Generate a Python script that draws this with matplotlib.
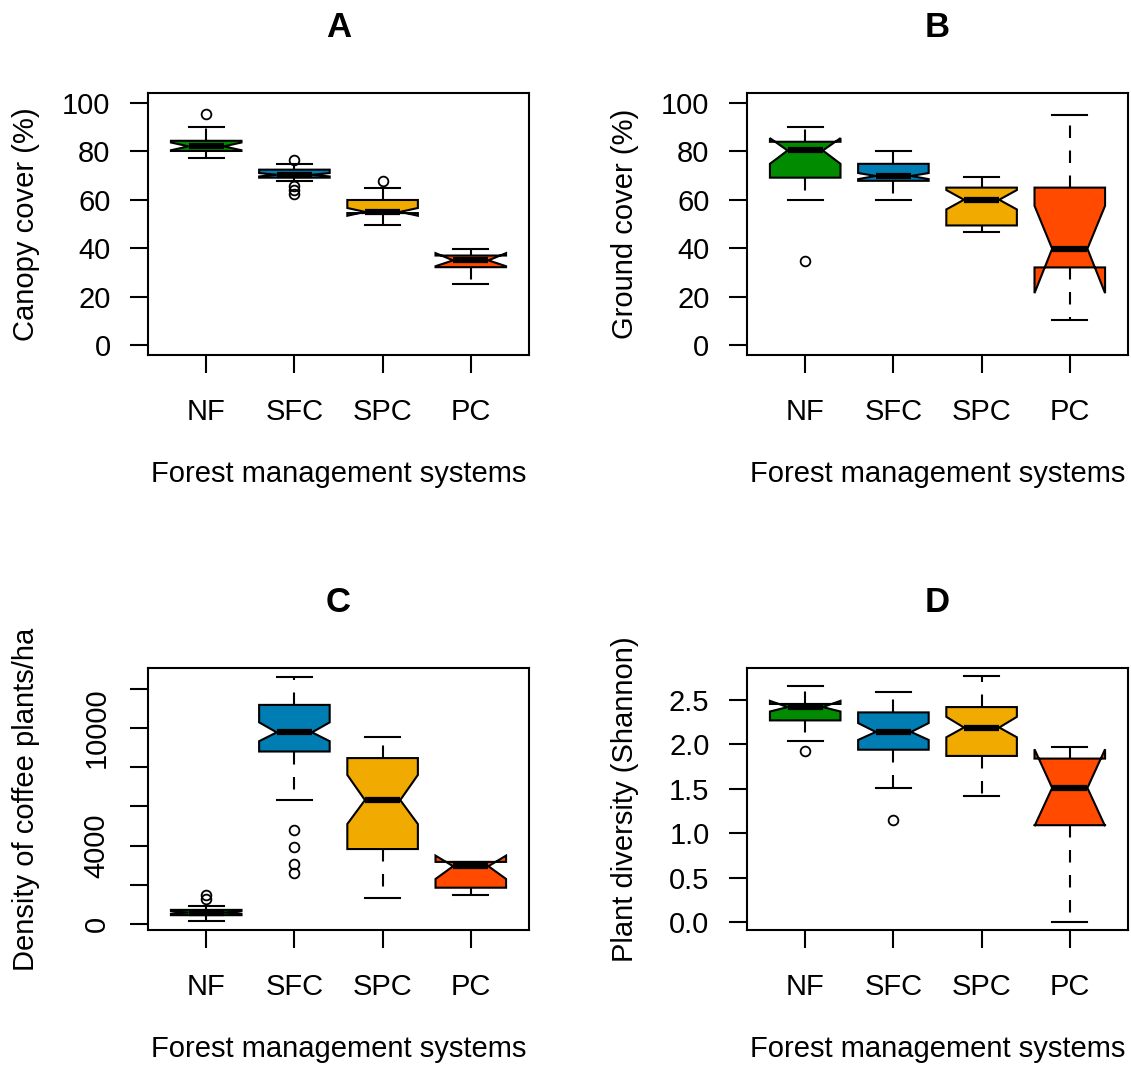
import matplotlib.pyplot as plt

plt.rcParams['font.family'] = ['Liberation Sans', 'DejaVu Sans']

groups = ['NF', 'SFC', 'SPC', 'PC']
colors = ['#008B00', '#007DB3', '#F0AA00', '#FF4A00']

# per group: whislo, q1, median, q3, whishi, notch low, notch high
canopy_box = [(77.3, 80.1, 82.0, 84.3, 89.8, 80.4, 83.6),
              (67.8, 69.1, 70.3, 72.4, 74.8, 69.6, 71.0),
              (49.7, 54.5, 55.0, 59.9, 65.0, 53.4, 56.6),
              (25.2, 32.2, 35.0, 37.0, 39.9, 32.6, 38.0)]
canopy_out = [[95.2], [76.2, 65.7, 64.0, 62.3], [67.8], []]

ground_box = [(59.9, 69.1, 80.3, 83.9, 89.8, 74.8, 85.4),
              (60.0, 67.8, 69.8, 74.8, 80.0, 68.5, 71.0),
              (46.7, 49.4, 60.0, 65.0, 69.5, 56.0, 64.0),
              (10.6, 32.1, 39.8, 65.0, 95.0, 21.5, 57.5)]
ground_out = [[34.7], [], [], []]

density_box = [(170, 455, 590, 725, 925, 520, 660),
               (6320, 8795, 9770, 11170, 12590, 9320, 10280),
               (1350, 3825, 6320, 8460, 9520, 5100, 7600),
               (1465, 1855, 2950, 3170, 3170, 2300, 3490)]
density_out = [[1300, 1465], [4800, 3925, 3080, 2610], [], []]

shannon_box = [(2.04, 2.27, 2.42, 2.455, 2.66, 2.37, 2.49),
               (1.51, 1.94, 2.14, 2.36, 2.59, 2.05, 2.24),
               (1.42, 1.87, 2.19, 2.42, 2.77, 2.08, 2.31),
               (0.00, 1.09, 1.51, 1.84, 1.97, 1.08, 1.945)]
shannon_out = [[1.92], [1.15], [], []]

density_ticks = [0, 2000, 4000, 6000, 8000, 10000, 12000]
density_labels = ['0', '', '4000', '', '', '10000', '']


def make_stats(box, out):
    stats = []
    for (lo, q1, med, q3, hi, cilo, cihi), fl in zip(box, out):
        stats.append(dict(whislo=lo, q1=q1, med=med, q3=q3, whishi=hi,
                          cilo=cilo, cihi=cihi, fliers=fl))
    return stats


fig = plt.figure(figsize=(11.31, 10.67), dpi=100)
W, H = 1131, 1067


def panel(x0, y0, letter, box, out, ylabel, ylim, yticks, ylabels=None, rotate=False):
    ax = fig.add_axes([x0 / W, (H - y0 - 262) / H, 381 / W, 262 / H])
    bp = ax.bxp(make_stats(box, out), positions=[1, 2, 3, 4], widths=0.8,
                shownotches=True, patch_artist=True,
                boxprops=dict(lw=1.5, edgecolor='black'),
                medianprops=dict(color='black', lw=4.5, solid_capstyle='butt'),
                whiskerprops=dict(color='black', lw=1.5, ls=(0, (6, 6))),
                capprops=dict(color='black', lw=1.5),
                flierprops=dict(marker='o', mfc='none', mec='black', ms=7, mew=1.3))
    for patch, c in zip(bp['boxes'], colors):
        patch.set_facecolor(c)

    ax.set_xlim(0.34, 4.66)
    ax.set_ylim(*ylim)
    ax.set_xticks([1, 2, 3, 4])
    ax.set_xticklabels(groups)
    ax.set_yticks(yticks)
    if ylabels is not None:
        ax.set_yticklabels(ylabels)
    for s in ax.spines.values():
        s.set_linewidth(1.5)
    ax.tick_params(axis='x', length=13, width=1.5, pad=18, labelsize=21)
    ax.tick_params(axis='y', length=13, width=1.5, pad=14, labelsize=21)
    if rotate:
        ax.tick_params(axis='y', labelrotation=90)
        for t in ax.get_yticklabels():
            t.set_va('center')

    ax.set_title(letter, fontsize=25, fontweight='bold', pad=40)
    ax.set_xlabel('Forest management systems', fontsize=21)
    ax.xaxis.set_label_coords(0.5, -0.40)
    ax.set_ylabel(ylabel, fontsize=21)
    ax.yaxis.set_label_coords(-0.32, 0.5)
    ax.yaxis.label.set_va('center')
    return ax


panel(148, 93, 'A', canopy_box, canopy_out, 'Canopy cover (%)',
      (-4, 104), [0, 20, 40, 60, 80, 100])
panel(747, 93, 'B', ground_box, ground_out, 'Ground cover (%)',
      (-4, 104), [0, 20, 40, 60, 80, 100])
panel(148, 668, 'C', density_box, density_out, 'Density of coffee plants/ha',
      (-300, 13050), density_ticks, density_labels, rotate=True)
panel(747, 668, 'D', shannon_box, shannon_out, 'Plant diversity (Shannon)',
      (-0.09, 2.86), [0, 0.5, 1.0, 1.5, 2.0, 2.5],
      ['0.0', '0.5', '1.0', '1.5', '2.0', '2.5'])

fig.savefig('out.png', dpi=100)
